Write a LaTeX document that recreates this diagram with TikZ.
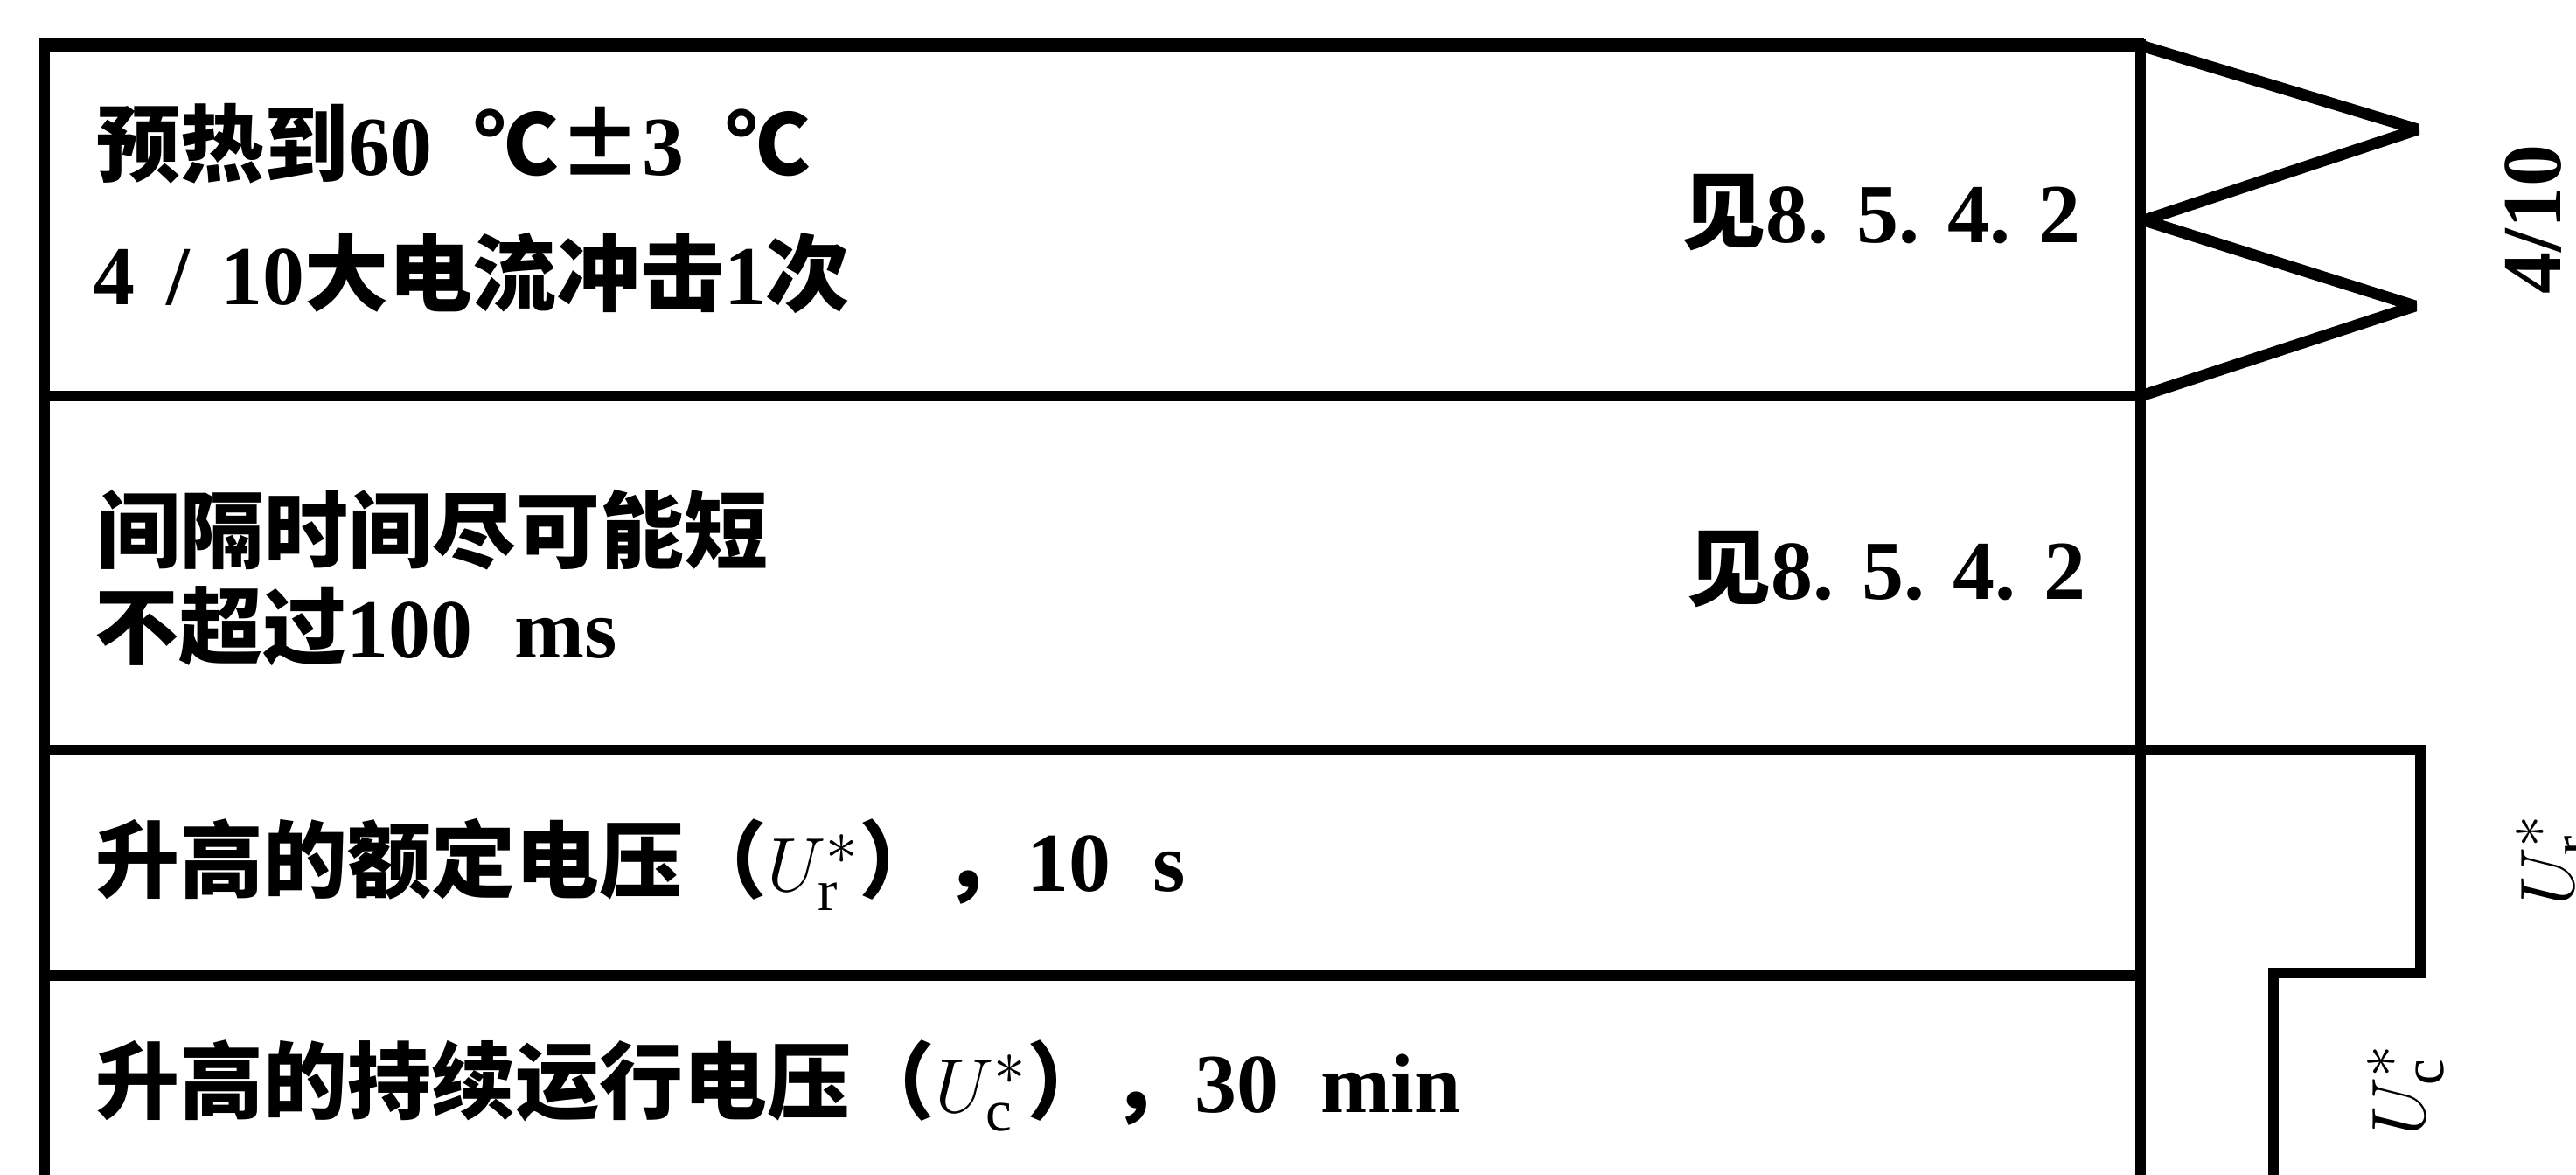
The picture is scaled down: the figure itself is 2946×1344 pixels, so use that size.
\documentclass[tikz,border=0pt]{standalone}
\usepackage{fontspec}
\setmainfont{Liberation Serif}
\newfontfamily\cjk{Noto Sans CJK SC}
\newcommand\zh[1]{{\cjk\bfseries #1}}
\newcommand\hs{\hspace{0.5em}}
\begin{document}
\begin{tikzpicture}[x=0.1mm,y=-0.1mm,
  txt/.style={font=\fontsize{27.3pt}{32pt}\selectfont\bfseries, inner sep=0pt, anchor=west},
  reftxt/.style={font=\fontsize{27.3pt}{32pt}\selectfont\bfseries, inner sep=0pt, anchor=east},
  vlbl/.style={font=\fontsize{27.3pt}{32pt}\selectfont\bfseries, inner sep=0pt, rotate=90, anchor=base west},
  rule/.style={line width=3.6pt},
  border/.style={line width=3.4pt},
  wave/.style={line width=3.7pt, line join=bevel}]
\clip (0,0) rectangle (2946,1344);
% coordinates of the table frame
\coordinate (tl) at (51,52);
\coordinate (tr) at (2448,52);
\coordinate (bl) at (51,1360);
\coordinate (br) at (2448,1360);
\coordinate (s1l) at (51,453);
\coordinate (s1r) at (2448,453);
\coordinate (s2l) at (51,858);
\coordinate (s2r) at (2768,858);
\coordinate (st1) at (2768,1113);
\coordinate (st2) at (2600,1113);
\coordinate (st3) at (2600,1360);
\coordinate (s3l) at (51,1116);
\coordinate (s3r) at (2448,1116);
\coordinate (z1) at (2765,148);
\coordinate (z2) at (2452,252);
\coordinate (z3) at (2762,350);
% frame
\draw[line width=4.3pt] ([xshift=-1.7pt]tl) -- ([xshift=1.2pt]tr);
\draw[border] (51,45) -- (bl);
\draw[border] (2448,45) -- (br);
\draw[rule] (s1l) -- (s1r);
\draw[rule, line join=miter] (s2l) -- (s2r) -- (st1) -- (st2) -- (st3);
\draw[line width=3.3pt] (s3l) -- (s3r);
% impulse zigzag
\draw[wave] (tr) -- (z1) -- (z2) -- (z3) -- (s1r);
% texts
\node[txt] (r1a) at (110,164) {\zh{预热到}60\hs\zh{℃±}3\hs\zh{℃}};
\node[txt] (r1b) at (106,312) {4\hspace{0.37em}/\hspace{0.37em}10\zh{大电流冲击}1\zh{次}};
\node[reftxt] (r1ref) at (2380,243) {\zh{见}8. 5. 4. 2};
\node[txt] (r2a) at (110,606) {\zh{间隔时间尽可能短}};
\node[txt] (r2b) at (108,716) {\zh{不超过}100\hs ms};
\node[reftxt] (r2ref) at (2386,651) {\zh{见}8. 5. 4. 2};
\node[txt] (r3) at (109,989) {\zh{升高的额定电压（}$U_{\mathrm{r}}^{*}$\zh{），}10\hs s};
\node[txt] (r4) at (109,1242) {\zh{升高的持续运行电压（}$U_{\mathrm{c}}^{*}$\zh{），}30\hs min};
\node[vlbl] (l410) at (2928,337) {4/10};
\node[vlbl] (lur) at (2943,1037) {$U_{\mathrm{r}}^{*}$};
\node[vlbl] (luc) at (2773,1300) {$U_{\mathrm{c}}^{*}$};
\end{tikzpicture}
\end{document}
